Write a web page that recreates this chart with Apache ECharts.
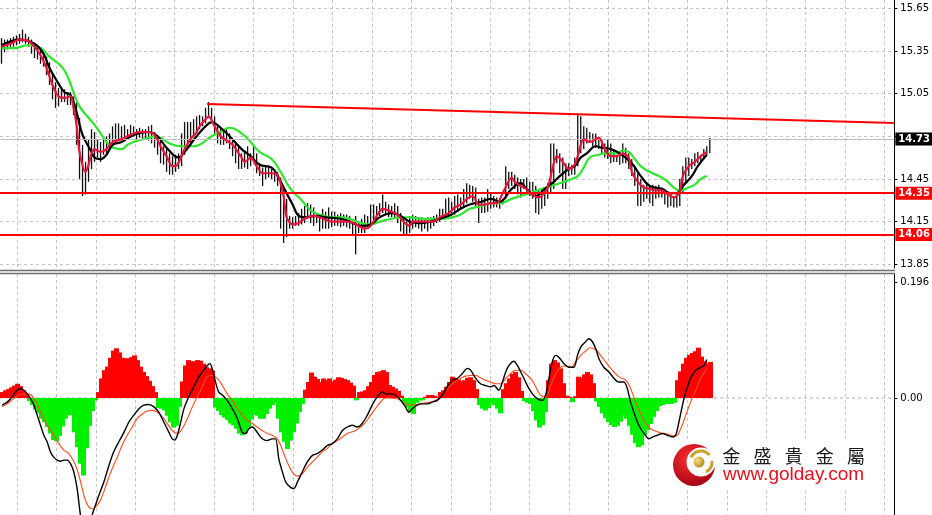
<!DOCTYPE html>
<html>
<head>
<meta charset="utf-8">
<script src="https://cdn.jsdelivr.net/npm/echarts@6/dist/echarts.min.js"></script>
<style>html,body{margin:0;padding:0;background:#fff}#c{width:932px;height:515px}</style>
</head>
<body>
<div id="c"></div>
<script>
// ---------- DATA ----------
const priceHigh = [15.44,15.43,15.43,15.44,15.45,15.46,15.47,15.50,15.47,15.45,
15.43,15.40,15.39,15.37,15.34,15.31,15.27,15.19,15.13,15.09,
15.08,15.08,15.06,15.06,15.03,14.99,14.88,14.69,14.57,14.73,
14.80,14.78,14.73,14.71,14.74,14.75,14.77,14.82,14.84,14.84,
14.82,14.83,14.80,14.83,14.82,14.80,14.81,14.80,14.80,14.82,
14.83,14.78,14.76,14.74,14.68,14.66,14.63,14.61,14.62,14.63,
14.77,14.85,14.85,14.85,14.87,14.89,14.90,14.89,14.95,14.99,
14.95,14.89,14.82,14.81,14.80,14.80,14.77,14.73,14.70,14.69,
14.63,14.64,14.68,14.63,14.69,14.63,14.56,14.53,14.54,14.53,
14.52,14.52,14.50,14.46,14.38,14.31,14.19,14.18,14.19,14.21,
14.24,14.26,14.28,14.27,14.25,14.21,14.20,14.24,14.22,14.25,
14.22,14.22,14.20,14.21,14.20,14.20,14.19,14.14,14.19,14.15,
14.17,14.20,14.19,14.27,14.27,14.26,14.28,14.34,14.29,14.27,
14.26,14.28,14.26,14.21,14.17,14.15,14.19,14.20,14.19,14.18,
14.18,14.17,14.18,14.18,14.19,14.20,14.24,14.24,14.31,14.32,
14.29,14.33,14.34,14.32,14.38,14.42,14.41,14.40,14.39,14.31,
14.32,14.32,14.38,14.35,14.33,14.32,14.31,14.31,14.54,14.50,
14.50,14.48,14.46,14.45,14.45,14.46,14.43,14.43,14.40,14.38,
14.38,14.38,14.42,14.70,14.70,14.66,14.63,14.60,14.56,14.56,
14.55,14.60,14.90,14.89,14.82,14.81,14.78,14.77,14.77,14.74,
14.73,14.70,14.73,14.70,14.66,14.62,14.62,14.70,14.67,14.63,
14.59,14.54,14.50,14.45,14.41,14.41,14.40,14.41,14.40,14.41,
14.39,14.38,14.36,14.35,14.33,14.34,14.45,14.54,14.60,14.60,
14.59,14.63,14.64,14.62,14.66,14.68,14.74];

const priceLow = [15.26,15.34,15.36,15.37,15.38,15.39,15.40,15.41,15.40,15.38,
15.33,15.30,15.29,15.26,15.24,15.18,15.11,15.01,14.95,14.96,
14.99,14.99,14.97,14.97,14.90,14.69,14.45,14.33,14.34,14.43,
14.52,14.57,14.60,14.57,14.62,14.63,14.66,14.68,14.70,14.72,
14.73,14.73,14.73,14.74,14.75,14.73,14.74,14.73,14.73,14.72,
14.70,14.67,14.62,14.56,14.55,14.50,14.48,14.48,14.50,14.52,
14.54,14.62,14.68,14.70,14.75,14.77,14.80,14.82,14.84,14.88,
14.85,14.77,14.70,14.69,14.69,14.70,14.66,14.61,14.56,14.52,
14.52,14.53,14.52,14.54,14.57,14.49,14.47,14.40,14.45,14.46,
14.45,14.43,14.40,14.10,14.00,14.04,14.10,14.10,14.12,14.12,
14.13,14.14,14.17,14.14,14.12,14.14,14.08,14.10,14.10,14.10,
14.11,14.12,14.12,14.11,14.12,14.11,14.10,14.06,13.92,14.07,
14.07,14.07,14.10,14.12,14.14,14.17,14.19,14.21,14.20,14.18,
14.18,14.17,14.14,14.08,14.06,14.05,14.07,14.10,14.11,14.10,
14.08,14.10,14.08,14.10,14.12,14.14,14.15,14.17,14.18,14.19,
14.21,14.20,14.22,14.24,14.26,14.28,14.31,14.29,14.26,14.14,
14.21,14.21,14.22,14.24,14.25,14.25,14.24,14.27,14.31,14.38,
14.40,14.38,14.34,14.32,14.38,14.36,14.33,14.31,14.21,14.20,
14.24,14.26,14.31,14.35,14.38,14.56,14.49,14.38,14.38,14.47,
14.48,14.48,14.54,14.63,14.66,14.70,14.71,14.68,14.67,14.66,
14.63,14.60,14.59,14.56,14.57,14.57,14.55,14.56,14.56,14.52,
14.47,14.40,14.26,14.26,14.29,14.31,14.28,14.26,14.31,14.32,
14.32,14.27,14.25,14.26,14.25,14.25,14.26,14.35,14.42,14.47,
14.52,14.54,14.56,14.57,14.60,14.62,14.63];

// moving averages: [bar index, price]
const maFast = [[0,15.38],[3,15.40],[6,15.43],[9,15.42],[11,15.38],[13,15.32],[15,15.23],[17,15.11],[19,15.03],[21,15.02],[23,15.03],[24,14.95],[25,14.83],[26,14.64],[28,14.50],[29,14.55],[30,14.63],[31,14.66],[33,14.64],[35,14.66],[37,14.71],[40,14.73],[42,14.75],[44,14.77],[46,14.78],[49,14.78],[51,14.76],[53,14.68],[55,14.61],[57,14.54],[58,14.54],[60,14.61],[61,14.66],[63,14.73],[65,14.78],[66,14.82],[68,14.87],[69,14.89],[71,14.82],[73,14.75],[75,14.72],[77,14.69],[80,14.60],[81,14.57],[83,14.60],[85,14.54],[87,14.49],[90,14.49],[92,14.48],[94,14.33],[95,14.18],[97,14.13],[99,14.14],[101,14.17],[104,14.19],[106,14.18],[110,14.15],[113,14.15],[116,14.15],[119,14.12],[121,14.10],[123,14.12],[125,14.19],[127,14.24],[130,14.22],[132,14.20],[134,14.15],[136,14.12],[137,14.15],[140,14.15],[142,14.15],[144,14.15],[146,14.18],[149,14.21],[151,14.25],[153,14.27],[155,14.31],[157,14.33],[159,14.27],[161,14.27],[163,14.28],[165,14.28],[167,14.35],[170,14.46],[171,14.43],[173,14.40],[175,14.38],[176,14.35],[179,14.32],[180,14.33],[182,14.39],[184,14.56],[185,14.61],[187,14.57],[189,14.52],[191,14.55],[192,14.61],[194,14.73],[196,14.71],[199,14.74],[201,14.66],[203,14.61],[205,14.61],[207,14.63],[209,14.60],[210,14.50],[212,14.43],[214,14.39],[216,14.38],[218,14.37],[220,14.37],[222,14.34],[224,14.32],[226,14.36],[227,14.47],[229,14.54],[231,14.57],[233,14.61],[235,14.64]];

const maMid = [[0,15.39],[6,15.43],[11,15.40],[14,15.33],[16,15.23],[19,15.12],[21,15.06],[23,15.04],[25,14.92],[27,14.76],[30,14.64],[31,14.60],[33,14.59],[35,14.62],[37,14.69],[40,14.71],[44,14.76],[49,14.78],[52,14.75],[55,14.67],[59,14.60],[61,14.64],[65,14.75],[68,14.82],[70,14.85],[73,14.81],[76,14.75],[80,14.66],[83,14.61],[86,14.55],[90,14.53],[92,14.47],[95,14.35],[97,14.27],[99,14.19],[101,14.18],[105,14.19],[108,14.18],[113,14.17],[116,14.15],[120,14.12],[123,14.13],[126,14.18],[130,14.21],[133,14.19],[136,14.15],[140,14.14],[143,14.15],[146,14.17],[150,14.20],[153,14.24],[156,14.27],[160,14.29],[163,14.31],[166,14.29],[170,14.38],[173,14.42],[175,14.38],[178,14.33],[181,14.38],[184,14.43],[186,14.47],[189,14.52],[191,14.54],[193,14.60],[195,14.63],[198,14.68],[200,14.67],[203,14.66],[206,14.63],[210,14.56],[213,14.47],[216,14.40],[220,14.38],[223,14.35],[225,14.35],[227,14.40],[230,14.47],[232,14.54],[235,14.62]];

const maSlow = [[0,15.37],[4,15.37],[9,15.39],[13,15.37],[16,15.31],[20,15.24],[22,15.17],[24,15.06],[26,14.96],[29,14.88],[31,14.83],[33,14.77],[35,14.71],[37,14.67],[40,14.66],[42,14.69],[44,14.71],[49,14.74],[51,14.75],[53,14.74],[56,14.70],[60,14.68],[64,14.68],[66,14.69],[70,14.75],[73,14.78],[76,14.81],[80,14.77],[83,14.71],[86,14.64],[90,14.59],[93,14.50],[96,14.39],[100,14.30],[103,14.23],[106,14.20],[110,14.18],[113,14.18],[116,14.17],[120,14.14],[123,14.13],[126,14.15],[130,14.17],[133,14.18],[136,14.18],[140,14.17],[143,14.17],[146,14.17],[150,14.18],[153,14.20],[156,14.24],[160,14.26],[163,14.28],[166,14.28],[170,14.31],[173,14.33],[176,14.35],[180,14.38],[183,14.40],[186,14.42],[190,14.45],[192,14.47],[194,14.53],[196,14.60],[199,14.62],[201,14.63],[205,14.63],[207,14.65],[209,14.64],[211,14.59],[213,14.54],[216,14.50],[220,14.46],[222,14.43],[224,14.39],[226,14.37],[229,14.39],[231,14.41],[233,14.45],[235,14.47]];

const trendLine = [[68.5,14.977],[297.5,14.843]];
const levelLines = [14.35, 14.06];
const lastPrice = 14.73;

// MACD histogram per bar
const osma = [0.010,0.013,0.015,0.018,0.021,0.024,0.020,0.013,0.006,-0.005,
-0.012,-0.020,-0.026,-0.035,-0.041,-0.049,-0.060,-0.071,-0.073,-0.064,
-0.048,-0.035,-0.029,-0.029,-0.058,-0.083,-0.111,-0.131,-0.085,-0.047,
-0.022,-0.004,0.010,0.033,0.047,0.053,0.068,0.080,0.084,0.077,
0.068,0.067,0.067,0.069,0.072,0.064,0.053,0.044,0.037,0.029,
0.020,0.010,-0.017,-0.018,-0.021,-0.030,-0.041,-0.050,-0.047,-0.015,
0.028,0.055,0.064,0.062,0.062,0.064,0.063,0.058,0.052,0.050,
0.046,-0.016,-0.022,-0.029,-0.033,-0.037,-0.043,-0.046,-0.052,-0.060,
-0.063,-0.060,-0.050,-0.036,-0.028,-0.030,-0.035,-0.035,-0.027,-0.018,
-0.012,-0.008,-0.035,-0.058,-0.074,-0.086,-0.072,-0.058,-0.043,-0.024,
-0.010,0.014,0.027,0.043,0.036,0.032,0.027,0.033,0.030,0.033,
0.028,0.031,0.035,0.034,0.032,0.030,0.026,0.021,-0.004,0.010,
0.011,0.013,0.020,0.027,0.039,0.044,0.045,0.047,0.044,0.022,
0.019,0.016,0.012,0.004,-0.010,-0.016,-0.024,-0.027,-0.008,-0.004,
-0.004,0.002,0.005,0.005,0.004,0.002,0.010,0.013,0.019,0.027,
0.036,0.034,0.031,0.028,0.030,0.034,0.035,0.030,0.015,-0.012,
-0.018,-0.021,-0.017,-0.010,-0.012,-0.018,-0.026,0.015,0.025,0.033,
0.041,0.044,0.035,0.012,-0.005,-0.008,-0.010,-0.022,-0.038,-0.050,
-0.046,-0.024,0.030,0.058,0.064,0.060,0.050,0.025,0.004,0.002,
-0.007,0.003,0.036,0.034,0.040,0.044,0.040,0.025,-0.006,-0.015,
-0.026,-0.034,-0.041,-0.046,-0.049,-0.047,-0.040,-0.030,-0.035,-0.047,
-0.062,-0.076,-0.083,-0.080,-0.063,-0.054,-0.044,-0.032,-0.022,-0.014,
-0.012,-0.010,-0.010,-0.010,-0.008,0.030,0.045,0.058,0.068,0.073,
0.076,0.079,0.085,0.070,0.062,0.058,0.061];

const macdLine = [[0.2,-0.012],[1.9,-0.007],[3.6,0.002],[5.2,0.013],[6.3,0.016],[7.4,0.013],[8.6,0.007],[9.7,-0.001],[10.8,-0.012],[11.9,-0.029],[13.0,-0.046],[14.1,-0.063],[15.2,-0.074],[16.3,-0.091],[17.4,-0.100],[18.6,-0.105],[19.7,-0.107],[20.8,-0.105],[21.9,-0.105],[23.0,-0.111],[24.1,-0.125],[25.2,-0.153],[26.1,-0.190],[26.9,-0.215],[28.6,-0.235],[30.2,-0.198],[31.3,-0.181],[32.4,-0.165],[34.1,-0.142],[35.8,-0.114],[37.4,-0.091],[39.1,-0.074],[40.8,-0.058],[42.4,-0.041],[44.1,-0.029],[45.8,-0.018],[47.4,-0.012],[49.1,-0.011],[50.8,-0.015],[52.4,-0.024],[54.1,-0.041],[55.8,-0.058],[56.9,-0.069],[57.7,-0.071],[58.6,-0.063],[59.7,-0.041],[60.8,-0.018],[62.4,0.002],[64.1,0.019],[65.8,0.036],[67.4,0.047],[68.6,0.055],[69.4,0.058],[70.2,0.050],[71.3,0.027],[72.4,0.010],[73.6,0.005],[75.2,-0.004],[76.9,-0.018],[78.6,-0.035],[80.2,-0.058],[81.3,-0.060],[82.4,-0.052],[83.6,-0.049],[85.2,-0.058],[86.9,-0.069],[88.6,-0.072],[90.2,-0.069],[91.3,-0.069],[92.4,-0.103],[93.6,-0.125],[94.7,-0.142],[96.3,-0.151],[97.4,-0.153],[98.6,-0.142],[100.2,-0.125],[101.9,-0.108],[103.6,-0.097],[105.2,-0.094],[106.9,-0.088],[108.6,-0.080],[110.2,-0.077],[111.9,-0.069],[113.6,-0.055],[115.2,-0.049],[116.9,-0.046],[118.5,-0.049],[120.2,-0.043],[121.9,-0.029],[123.5,-0.012],[125.2,0.002],[126.9,0.010],[128.0,0.007],[129.6,0.007],[131.3,0.005],[133.0,-0.004],[134.6,-0.015],[135.7,-0.024],[136.9,-0.018],[138.5,-0.012],[140.2,-0.010],[141.9,-0.010],[143.5,-0.007],[145.2,-0.004],[146.9,0.005],[148.5,0.019],[150.2,0.030],[151.9,0.033],[153.5,0.041],[155.2,0.050],[156.3,0.047],[158.0,0.033],[159.6,0.024],[161.3,0.021],[163.0,0.019],[164.1,0.021],[165.7,0.013],[166.9,0.027],[168.0,0.044],[169.1,0.055],[170.7,0.062],[171.9,0.055],[173.0,0.044],[174.1,0.033],[175.2,0.021],[176.9,0.007],[178.5,-0.001],[180.2,-0.004],[181.3,0.005],[182.4,0.033],[183.5,0.061],[184.6,0.072],[185.7,0.069],[187.4,0.058],[189.1,0.052],[190.7,0.052],[191.9,0.072],[193.0,0.086],[194.6,0.095],[195.7,0.100],[196.9,0.095],[198.0,0.083],[199.1,0.066],[200.7,0.052],[202.4,0.044],[204.1,0.033],[205.7,0.027],[207.4,0.027],[208.5,0.016],[209.6,-0.007],[210.7,-0.024],[211.9,-0.041],[213.0,-0.052],[214.1,-0.060],[215.7,-0.069],[216.9,-0.066],[218.5,-0.063],[220.2,-0.060],[221.9,-0.063],[223.5,-0.066],[224.6,-0.063],[225.7,-0.041],[226.9,-0.012],[228.0,0.010],[229.6,0.033],[231.3,0.047],[233.0,0.052],[234.1,0.055],[235.0,0.065]];

const signalLine = [[0.2,-0.015],[1.9,-0.010],[4.1,-0.001],[6.3,0.006],[8.6,0.007],[10.8,-0.001],[13.0,-0.024],[15.2,-0.046],[17.4,-0.063],[19.1,-0.077],[20.8,-0.088],[22.4,-0.094],[23.6,-0.103],[24.7,-0.114],[25.8,-0.131],[26.9,-0.153],[28.0,-0.173],[29.1,-0.184],[30.2,-0.187],[31.9,-0.181],[33.6,-0.165],[35.2,-0.142],[36.9,-0.119],[38.6,-0.100],[40.2,-0.080],[41.9,-0.063],[43.6,-0.049],[45.2,-0.035],[46.9,-0.027],[48.6,-0.022],[50.2,-0.021],[51.9,-0.024],[53.6,-0.032],[55.2,-0.043],[56.9,-0.055],[58.6,-0.060],[60.2,-0.052],[61.9,-0.035],[63.6,-0.015],[65.2,0.002],[66.9,0.019],[68.6,0.036],[70.2,0.038],[71.9,0.033],[73.6,0.021],[75.2,0.007],[76.9,-0.004],[78.6,-0.018],[80.2,-0.029],[81.9,-0.038],[83.6,-0.043],[85.2,-0.049],[86.9,-0.055],[88.6,-0.060],[90.2,-0.063],[91.9,-0.069],[93.6,-0.088],[95.2,-0.108],[96.9,-0.125],[98.6,-0.132],[100.2,-0.128],[101.9,-0.117],[103.6,-0.108],[105.2,-0.100],[106.9,-0.091],[108.6,-0.085],[110.2,-0.077],[111.9,-0.072],[113.6,-0.066],[115.2,-0.060],[116.3,-0.058],[118.0,-0.055],[119.6,-0.049],[121.3,-0.041],[123.0,-0.029],[124.6,-0.018],[126.3,-0.007],[128.0,0.000],[129.6,0.000],[131.3,-0.001],[133.0,-0.004],[134.6,-0.010],[136.3,-0.012],[138.0,-0.011],[139.6,-0.010],[141.3,-0.008],[143.0,-0.007],[144.6,-0.004],[146.3,0.002],[148.0,0.013],[149.6,0.021],[151.3,0.028],[153.0,0.033],[154.6,0.037],[156.3,0.038],[158.0,0.038],[159.6,0.034],[161.3,0.030],[163.0,0.027],[164.6,0.024],[166.3,0.024],[168.0,0.033],[169.6,0.041],[171.3,0.047],[173.0,0.047],[174.6,0.041],[176.3,0.033],[178.0,0.019],[179.6,0.005],[181.3,0.002],[183.0,0.021],[184.6,0.041],[186.3,0.052],[188.0,0.054],[189.6,0.052],[191.3,0.061],[193.0,0.072],[194.6,0.079],[196.3,0.085],[198.0,0.082],[199.6,0.072],[201.3,0.061],[203.0,0.050],[204.6,0.041],[206.3,0.034],[208.0,0.030],[209.6,0.016],[211.3,-0.007],[213.0,-0.027],[214.6,-0.043],[216.3,-0.052],[218.0,-0.056],[219.6,-0.059],[221.3,-0.060],[223.0,-0.063],[224.6,-0.064],[226.3,-0.052],[228.0,-0.029],[229.6,-0.007],[231.3,0.013],[233.0,0.033],[235.0,0.050]];

const priceTicks = [13.85, 14.15, 14.45, 14.75, 15.05, 15.35, 15.65];
const priceLabelTicks = [13.85, 14.15, 14.45, 15.05, 15.35, 15.65];
const macdTicks = [0.196, 0];
const macdTickLabels = ['0.196', '0.00'];
const logoChars = ['金','盛','貴','金','屬'];
const logoUrl = 'www.golday.com';

// ---------- CHART ----------
const SLOT_MIN = -0.5, SLOT_MAX = 297.5;
const gridTicks = [];
for (let k = 0; k < 23; k++) gridTicks.push(5.16 + 13.14 * k);

const FONT = 'DejaVu Sans';
const xAxisCommon = (gi) => ({
  type: 'value', gridIndex: gi, min: SLOT_MIN, max: SLOT_MAX,
  axisLine: {show: false, onZero: false}, axisLabel: {show: false},
  axisTick: {show: false, customValues: gridTicks},
  splitLine: {show: true, lineStyle: {color: '#c4c4c4', type: [3, 3], width: 1}}
});

const chart = echarts.init(document.getElementById('c'), null, {renderer: 'canvas'});

const lvlLabel = (bg) => ({
  show: true, position: 'end', distance: 1,
  color: '#fff', backgroundColor: bg, fontFamily: FONT, fontSize: 10, fontWeight: 'bold',
  padding: [2, 5, 1, 3]
});

chart.setOption({
  animation: false,
  backgroundColor: '#fff',
  grid: [
    {left: 0, right: 37, top: 0, height: 268},
    {left: 0, right: 37, top: 274, height: 241}
  ],
  xAxis: [xAxisCommon(0), xAxisCommon(1)],
  yAxis: [
    {
      type: 'value', gridIndex: 0, position: 'right', min: 13.824, max: 15.708,
      axisLine: {show: true, onZero: false, lineStyle: {color: '#000', width: 1}},
      axisTick: {show: true, length: 3, customValues: priceTicks, lineStyle: {color: '#000'}},
      axisLabel: {customValues: priceLabelTicks, formatter: v => v.toFixed(2), color: '#000',
        fontFamily: FONT, fontSize: 10, margin: 6},
      splitLine: {show: true, lineStyle: {color: '#c4c4c4', type: [3, 3], width: 1}}
    },
    {
      type: 'value', gridIndex: 1, position: 'right', min: -0.1977, max: 0.2095,
      axisLine: {show: true, onZero: false, lineStyle: {color: '#000', width: 1}},
      axisTick: {show: true, length: 3, customValues: macdTicks, lineStyle: {color: '#000'}},
      axisLabel: {customValues: macdTicks, formatter: v => macdTickLabels[macdTicks.indexOf(v)] ?? v.toFixed(2),
        color: '#000', fontFamily: FONT, fontSize: 10, margin: 6},
      splitLine: {show: false}
    }
  ],
  series: [
    {
      type: 'custom', xAxisIndex: 0, yAxisIndex: 0, z: 2,
      data: priceHigh.map((h, i) => [i, h, priceLow[i]]),
      encode: {x: 0, y: [1, 2]},
      renderItem: (params, api) => {
        const x = api.value(0);
        const a = api.coord([x, api.value(1)]);
        const b = api.coord([x, api.value(2)]);
        return {type: 'line', shape: {x1: a[0], y1: a[1], x2: b[0], y2: b[1]},
          style: {stroke: '#111', lineWidth: 1.3}};
      }
    },
    {type: 'line', xAxisIndex: 0, yAxisIndex: 0, data: maSlow, smooth: 0.5, symbol: 'none', z: 3,
      lineStyle: {color: '#2ee62e', width: 2.2}},
    {type: 'line', xAxisIndex: 0, yAxisIndex: 0, data: maMid, smooth: 0.4, symbol: 'none', z: 4,
      lineStyle: {color: '#000', width: 2.2}},
    {type: 'line', xAxisIndex: 0, yAxisIndex: 0, data: maFast, smooth: 0.3, symbol: 'none', z: 5,
      lineStyle: {color: '#e8163c', width: 2.2}},
    {
      type: 'line', xAxisIndex: 0, yAxisIndex: 0, data: trendLine, symbol: 'none', z: 6,
      lineStyle: {color: '#ff0000', width: 2},
      markLine: {
        silent: true, symbol: 'none', animation: false,
        data: [
          {yAxis: lastPrice, lineStyle: {color: '#bdbdbd', type: 'solid', width: 1},
            label: Object.assign(lvlLabel('#000'), {formatter: lastPrice.toFixed(2)})},
          {yAxis: levelLines[0], lineStyle: {color: '#ff0000', type: 'solid', width: 2},
            label: Object.assign(lvlLabel('#ff0000'), {formatter: levelLines[0].toFixed(2)})},
          {yAxis: levelLines[1], lineStyle: {color: '#ff0000', type: 'solid', width: 2},
            label: Object.assign(lvlLabel('#ff0000'), {formatter: levelLines[1].toFixed(2)})}
        ]
      }
    },
    {type: 'line', xAxisIndex: 1, yAxisIndex: 1, data: [[SLOT_MIN, 0], [SLOT_MAX, 0]], symbol: 'none', z: 1,
      lineStyle: {color: '#b0b0b0', type: [3, 3], width: 1}},
    {
      type: 'custom', xAxisIndex: 1, yAxisIndex: 1, z: 2,
      data: osma.map((v, i) => [i, v]),
      encode: {x: 0, y: 1},
      renderItem: (params, api) => {
        const i = api.value(0), v = api.value(1);
        const top = api.coord([i, v]);
        const base = api.coord([i, 0]);
        const w = api.size([1, 0])[0];
        return {type: 'rect',
          shape: {x: Math.floor(top[0] - w / 2), y: Math.min(top[1], base[1]), width: Math.ceil(w) + 1, height: Math.abs(base[1] - top[1])},
          style: {fill: v >= 0 ? '#ff0000' : '#00f000'}};
      }
    },
    {type: 'line', xAxisIndex: 1, yAxisIndex: 1, data: macdLine, smooth: 0.3, symbol: 'none', z: 4,
      lineStyle: {color: '#000', width: 1.4}},
    {type: 'line', xAxisIndex: 1, yAxisIndex: 1, data: signalLine, smooth: 0.5, symbol: 'none', z: 3,
      lineStyle: {color: '#ff4a1a', width: 1.1}}
  ],
  graphic: [
    {type: 'line', z: 50, shape: {x1: 0, y1: 270.5, x2: 895, y2: 270.5}, style: {stroke: '#6e6e6e', lineWidth: 1.5}},
    {type: 'line', z: 50, shape: {x1: 0, y1: 273.5, x2: 895, y2: 273.5}, style: {stroke: '#6e6e6e', lineWidth: 1.5}},
    {type: 'rect', z: 60, shape: {x: 679, y: 439, width: 190, height: 50}, style: {fill: '#fff'}},
    {type: 'circle', z: 61, shape: {cx: 694, cy: 465, r: 21},
      style: {fill: {type: 'radial', x: 0.4, y: 0.35, r: 0.75,
        colorStops: [{offset: 0, color: '#ff3030'}, {offset: 1, color: '#9a0010'}]}}},
    {type: 'circle', z: 62, shape: {cx: 701, cy: 462, r: 14.5}, style: {fill: '#fff'}},
    {type: 'arc', z: 63, shape: {cx: 701, cy: 462, r: 11, startAngle: -2.7, endAngle: -0.7},
      style: {stroke: '#c9a227', lineWidth: 3, fill: null}},
    {type: 'arc', z: 63, shape: {cx: 701, cy: 462, r: 11, startAngle: -0.1, endAngle: 1.1},
      style: {stroke: '#c9a227', lineWidth: 3, fill: null}},
    {type: 'circle', z: 64, shape: {cx: 699, cy: 462, r: 5.5},
      style: {fill: {type: 'radial', x: 0.35, y: 0.35, r: 0.8,
        colorStops: [{offset: 0, color: '#f7df7a'}, {offset: 1, color: '#a8801a'}]}}},
    ...logoChars.map((ch, k) => ({
      type: 'text', z: 65,
      style: {text: ch, x: 731.5 + 31.1 * k, y: 456, align: 'center', verticalAlign: 'middle',
        fontFamily: 'Noto Sans CJK TC', fontSize: 18, fill: '#1a1a1a'}
    })),
    {type: 'text', z: 65, style: {text: logoUrl, x: 723, y: 475, align: 'left', verticalAlign: 'middle',
      fontFamily: 'Liberation Sans', fontSize: 19, fill: '#e60f1e'}}
  ]
});
</script>
</body>
</html>
